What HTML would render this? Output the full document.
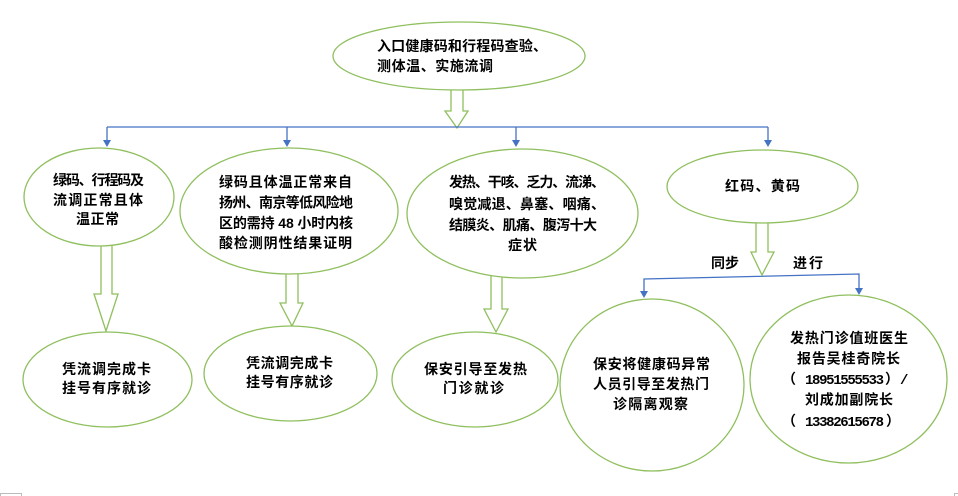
<!DOCTYPE html>
<html>
<head>
<meta charset="utf-8">
<style>
html,body{margin:0;padding:0;background:#fff;}
svg{display:block;}
text{font-family:"Liberation Sans","Noto Sans CJK SC",sans-serif;font-weight:700;font-size:14px;fill:#000;}
text.n{font-family:"Liberation Mono","Noto Sans CJK SC",monospace;}
</style>
</head>
<body>
<svg width="958" height="496" viewBox="0 0 958 496" xmlns="http://www.w3.org/2000/svg">
<g fill="#fff" stroke="#8fbf5e" stroke-width="1.3">
  <!-- hollow arrows -->
  <polygon points="451,85 463,85 463,111 468,111 457,128 445,111 451,111"/>
  <polygon points="101,240 112,240 112,294 118,294 106,331 94,294 101,294"/>
  <polygon points="286,268 298,268 298,303 303,303 292,326 280,303 286,303"/>
  <polygon points="491,272 502,272 502,309 508,309 496,332 484,309 491,309"/>
  <polygon points="756,218 768,218 768,252 774,252 762,275 751,252 756,252"/>
  <!-- ellipses -->
  <ellipse cx="459" cy="56" rx="126" ry="34"/>
  <ellipse cx="99" cy="197" rx="75" ry="49"/>
  <ellipse cx="289" cy="211" rx="109" ry="63"/>
  <ellipse cx="522.5" cy="213.5" rx="115.5" ry="64.5"/>
  <ellipse cx="762.5" cy="186.5" rx="95.5" ry="36.5"/>
  <ellipse cx="107.5" cy="379.5" rx="84.5" ry="47.5"/>
  <ellipse cx="290.5" cy="373.5" rx="86.5" ry="47.5"/>
  <ellipse cx="475" cy="379.5" rx="83" ry="47.5"/>
  <ellipse cx="652" cy="385" rx="92" ry="86"/>
  <ellipse cx="848.5" cy="379" rx="98.5" ry="84"/>
</g>
<!-- blue connectors -->
<g stroke="#4472c4" stroke-width="1.3" fill="none">
  <line x1="107" y1="127" x2="768" y2="127"/>
  <line x1="107" y1="127" x2="107" y2="141"/>
  <line x1="287" y1="127" x2="287" y2="141"/>
  <line x1="516" y1="127" x2="516" y2="141"/>
  <line x1="768" y1="127" x2="768" y2="141"/>
  <polyline points="644,292 644,279 859,274 859,289"/>
</g>
<g fill="#4472c4">
  <polygon points="103,140 111,140 107,147"/>
  <polygon points="283,140 291,140 287,147"/>
  <polygon points="512,140 520,140 516,147"/>
  <polygon points="764,140 772,140 768,147"/>
  <polygon points="640,291 648,291 644,298"/>
  <polygon points="855,288 863,288 859,295"/>
</g>
<!-- small corner marks -->
<rect x="0.5" y="493.5" width="21" height="4" fill="none" stroke="#bbb" stroke-width="1"/>
<polyline points="958,493.5 954.5,493.5 954.5,496" fill="none" stroke="#bbb" stroke-width="1"/>

<!-- texts -->
<text x="377" y="51" textLength="170">入口健康码和行程码查验、</text>
<text x="377" y="71" textLength="116">测体温、实施流调</text>

<text x="53" y="185" textLength="91">绿码、行程码及</text>
<text x="53" y="205" textLength="90">流调正常且体</text>
<text x="76" y="224" textLength="43">温正常</text>

<text x="219" y="187" textLength="133">绿码且体温正常来自</text>
<text x="219" y="207.5" textLength="134">扬州、南京等低风险地</text>
<text x="219" y="228" textLength="134">区的需持 48 小时内核</text>
<text x="219" y="248" textLength="133">酸检测阴性结果证明</text>

<text x="449" y="187" textLength="156">发热、干咳、乏力、流涕、</text>
<text x="449" y="209" textLength="156">嗅觉减退、鼻塞、咽痛、</text>
<text x="449" y="230" textLength="148">结膜炎、肌痛、腹泻十大</text>
<text x="508" y="250" textLength="29">症状</text>

<text x="725" y="191" textLength="75">红码、黄码</text>

<text x="711" y="268" textLength="28">同步</text>
<text x="793" y="268" textLength="30">进行</text>

<text x="62" y="374" textLength="89">凭流调完成卡</text>
<text x="62" y="393" textLength="89">挂号有序就诊</text>

<text x="246" y="368" textLength="87">凭流调完成卡</text>
<text x="246" y="387" textLength="87">挂号有序就诊</text>

<text x="424" y="374" textLength="103">保安引导至发热</text>
<text x="443" y="393" textLength="61">门诊就诊</text>

<text x="593" y="369" textLength="117">保安将健康码异常</text>
<text x="593" y="389" textLength="116">人员引导至发热门</text>
<text x="613" y="409" textLength="75">诊隔离观察</text>

<text x="790" y="343" textLength="118">发热门诊值班医生</text>
<text x="797" y="363.5" textLength="103">报告吴桂奇院长</text>
<text x="782" y="384">（</text>
<text class="n" x="805" y="384" textLength="79">18951555533</text>
<text x="885" y="384">）</text>
<text class="n" x="900" y="384">/</text>
<text x="805" y="404.5" textLength="88">刘成加副院长</text>
<text x="782" y="426">（</text>
<text class="n" x="805" y="426" textLength="79">13382615678</text>
<text x="886" y="426">）</text>
</svg>
</body>
</html>
